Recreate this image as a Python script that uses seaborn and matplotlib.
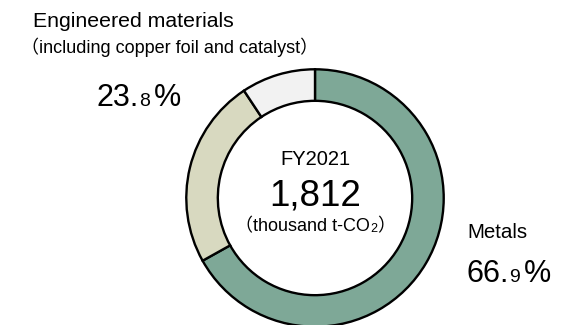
import matplotlib
matplotlib.use("Agg")
import matplotlib.pyplot as plt
import seaborn as sns

sns.set_style("white")
FAMILY = ["Liberation Sans", "Noto Sans CJK JP", "DejaVu Sans"]
plt.rcParams["font.family"] = FAMILY
plt.rcParams["text.color"] = "black"

segments = ["Metals", "Engineered materials", "Other"]
shares = [66.9, 23.8, 9.3]
colors = ["#7ea897", "#d8d9c0", "#f2f2f2"]
year_label = "FY2021"
total_label = "1,812"
unit_label = "thousand t-CO"
note_label = "including copper foil and catalyst"

W, H = 586, 325
fig = plt.figure(figsize=(W / 100, H / 100), dpi=100)

# donut ring, starting at twelve o'clock and running clockwise
cx, cy, r = 315, 198, 130
ax = fig.add_axes([(cx - r) / W, (H - cy - r) / H, 2 * r / W, 2 * r / H])
ax.pie(shares, colors=colors, startangle=90, counterclock=False, radius=1.0,
       wedgeprops=dict(width=0.245, edgecolor="black", linewidth=1.7))
ax.set_xlim(-1.01, 1.01)
ax.set_ylim(-1.01, 1.01)
ax.set_aspect("equal")
ax.axis("off")

renderer = fig.canvas.get_renderer()


def put(x, y, s, size, ha="left"):
    """Place text with its baseline at pixel row y (from the top)."""
    return fig.text(x / W, 1 - y / H, s, ha=ha, va="baseline",
                    fontsize=size, family=FAMILY, color="black")


def run(x, y, pieces, center=False):
    """Lay out (text, size, dy, gap) pieces side by side on one baseline."""
    arts = []
    pos = x
    for s, size, dy, gap in pieces:
        pos += gap
        t = put(pos, y + dy, s, size)
        pos += t.get_window_extent(renderer).width
        arts.append(t)
    if center:
        shift = (pos - x) / 2 / W
        for t in arts:
            px_, py_ = t.get_position()
            t.set_position((px_ - shift, py_))
    return arts


def pct(x, y, value, big, small, gap=4):
    whole, frac = f"{value:.1f}".split(".")
    run(x, y, [(whole + ".", big, 0, 0), (frac, small, 0, 0), ("%", big, 0, gap)])


# centre labels
put(cx, 165, year_label, 14.5, ha="center")
put(cx, 206, total_label, 26.5, ha="center")
run(cx, 231, [("（" + unit_label, 13, 0, 0), ("2", 9, 1, 0), ("）", 13, 0, 0)], center=True)

# engineered materials
put(33, 27, segments[1], 15.3)
put(21, 53, "（" + note_label + "）", 13)
pct(97, 106, shares[1], 22, 14)

# metals
put(467, 238, segments[0], 14.8)
pct(467, 282, shares[0], 22, 14)

fig.savefig("out.png", dpi=100)
